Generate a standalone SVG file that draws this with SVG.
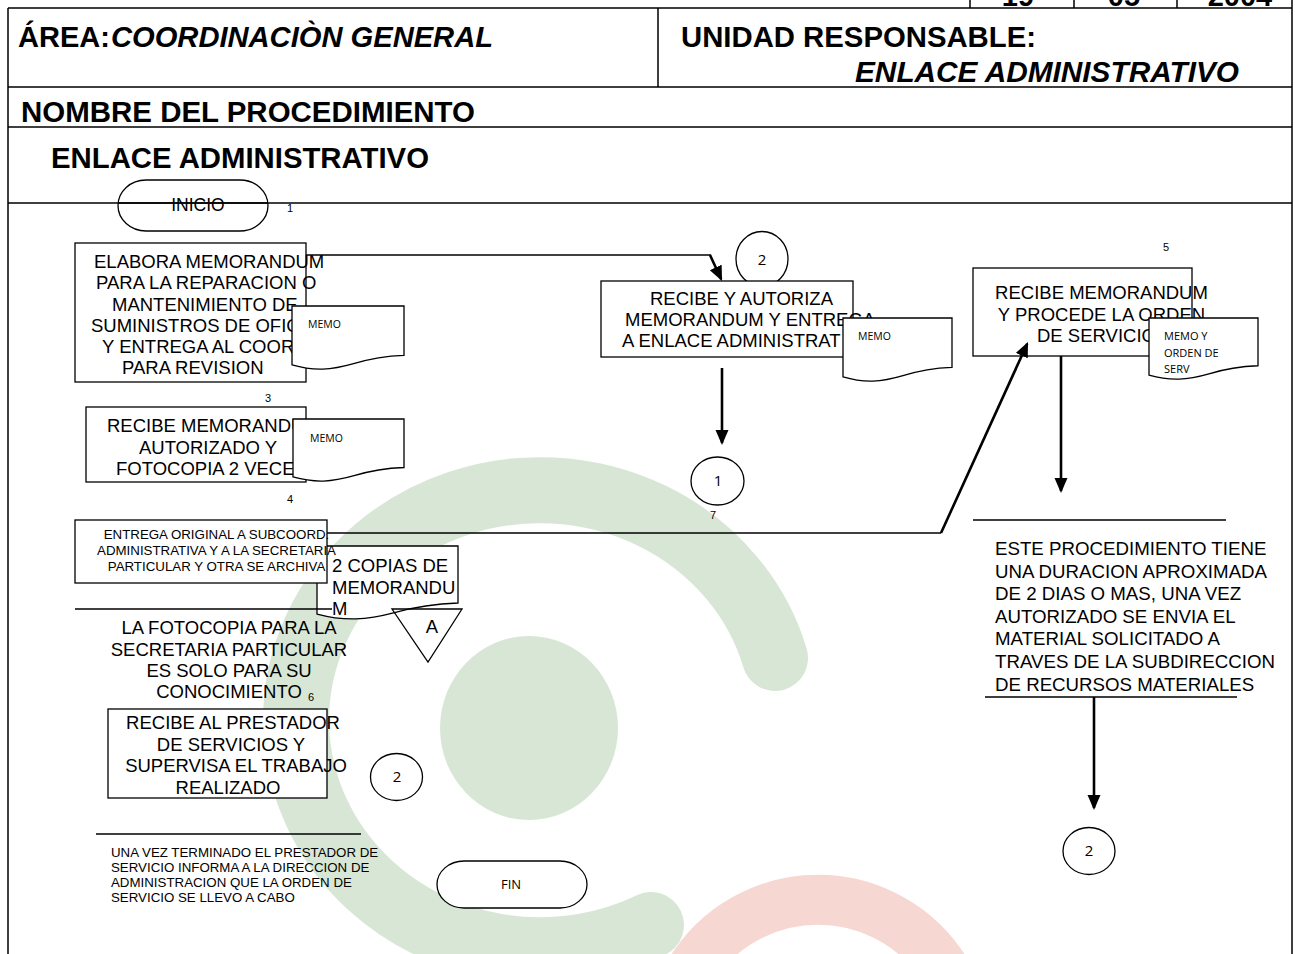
<svg xmlns="http://www.w3.org/2000/svg" width="1295" height="954" viewBox="0 0 1295 954">
<defs>
<style>
.t{font-family:"Liberation Sans",Arial,sans-serif;fill:#000}
.hd{font-size:29px;font-weight:bold}
.it{font-style:italic}
.m{font-size:18.5px}
.r{font-size:18.7px}
.s{font-size:13.3px}
.mid{text-anchor:middle}
.n{font-family:"Liberation Sans",Arial,sans-serif;font-size:11px;fill:#000}
.c{font-family:"Open Sans","Noto Sans",sans-serif;fill:#000}
.box{fill:#fff;stroke:#000;stroke-width:1.3}
.doc{fill:#fff;stroke:#000;stroke-width:1.3}
.circ{fill:#fff;stroke:#000;stroke-width:1.3}
.ln{fill:none;stroke:#000;stroke-width:1.3}
.fr{fill:none;stroke:#000;stroke-width:1.5}
.ar{fill:none;stroke:#000;stroke-width:2.6}
</style>
<marker id="ah" markerUnits="userSpaceOnUse" markerWidth="15" markerHeight="14" viewBox="0 0 15 14" refX="13" refY="7" orient="auto">
<path d="M0,0.5 L15,7 L0,13.5 Z" fill="#000"/>
</marker>
<path id="docShape" d="M0,0 H100 V77 C85,77.9 70,82 55,90 C35,100 20,102 0,92 Z" vector-effect="non-scaling-stroke"/>
</defs>
<rect x="0" y="0" width="1295" height="954" fill="#fff"/>
<g id="watermark">
<path d="M775,658 A244,230 0 1 0 651,925" fill="none" stroke="#d8e7d5" stroke-width="66" stroke-linecap="round"/>
<ellipse cx="529" cy="728" rx="89" ry="92" fill="#d8e7d5"/>
<path d="M677,1101 A150,150 0 1 1 959,1101" fill="none" stroke="#f6d7d1" stroke-width="50"/>
</g>
<g id="frame">
<path class="fr" d="M8,8 H1292 M8,8 V954 M1292,0 V954 M8,87 H1292 M658,8 V87 M8,127 H1292 M8,203 H1292 M970,0 V8 M1074,0 V8 M1177,0 V8"/>
<text class="t hd mid" x="1018" y="6">19</text>
<text class="t hd mid" x="1124" y="6">05</text>
<text class="t hd mid" x="1240" y="6">2004</text>
<text class="t hd" x="18" y="47">ÁREA:</text>
<text class="t hd it" x="111" y="47" textLength="382" lengthAdjust="spacingAndGlyphs">COORDINACIÒN GENERAL</text>
<text class="t hd" x="681" y="47" textLength="355" lengthAdjust="spacingAndGlyphs">UNIDAD RESPONSABLE:</text>
<text class="t hd it" x="855" y="82" textLength="384" lengthAdjust="spacingAndGlyphs">ENLACE ADMINISTRATIVO</text>
<text class="t hd" x="21" y="122" textLength="454" lengthAdjust="spacingAndGlyphs">NOMBRE DEL PROCEDIMIENTO</text>
<text class="t hd" x="51" y="168" textLength="378" lengthAdjust="spacingAndGlyphs">ENLACE ADMINISTRATIVO</text>
</g>
<g id="n-inicio">
<rect class="ln" x="118" y="180" width="150" height="51" rx="28" ry="25.5"/>
<path class="fr" d="M118,203 H268"/>
<text class="t mid" x="198" y="211" font-size="17.5">INICIO</text>
</g>
<g id="n-c2top">
<ellipse class="circ" cx="762" cy="259" rx="26" ry="27.5"/>
<text class="c mid" x="762" y="265" font-size="15">2</text>
</g>
<g id="n-step1">
<text class="n" x="287" y="212">1</text>
<rect class="box" x="75" y="243" width="231" height="139"/>
<text class="t m" x="94" y="268">ELABORA MEMORANDUM</text>
<text class="t m" x="96" y="289">PARA LA REPARACION O</text>
<text class="t m" x="112" y="310.5">MANTENIMIENTO DE</text>
<text class="t m" x="91" y="332">SUMINISTROS DE OFIC</text>
<text class="t m" x="102" y="353">Y ENTREGA AL COOR</text>
<text class="t m" x="122" y="374">PARA REVISION</text>
<use href="#docShape" class="doc" transform="translate(292,306) scale(1.12,0.64)"/>
<text class="c" x="308" y="328" font-size="10.5">MEMO</text>
</g>
<g id="n-step2">
<rect class="box" x="601" y="281" width="252" height="76"/>
<text class="t m" x="650" y="305">RECIBE Y AUTORIZA</text>
<text class="t m" x="625" y="326">MEMORANDUM Y ENTREGA</text>
<text class="t m" x="622" y="347">A ENLACE ADMINISTRAT</text>
<use href="#docShape" class="doc" transform="translate(843,318) scale(1.09,0.64)"/>
<text class="c" x="858" y="340" font-size="10.5">MEMO</text>
</g>
<g id="n-c1">
<ellipse class="circ" cx="717.5" cy="481" rx="26.5" ry="24"/>
<text class="c mid" x="718" y="486" font-size="15">1</text>
<text class="n" x="710" y="519">7</text>
</g>
<g id="n-step5">
<text class="n" x="1163" y="251">5</text>
<rect class="box" x="973" y="268" width="219" height="88"/>
<text class="t m mid" x="1101.5" y="299">RECIBE MEMORANDUM</text>
<text class="t m mid" x="1101.5" y="320.5">Y PROCEDE LA ORDEN</text>
<text class="t m" x="1037" y="342">DE SERVICIO</text>
<use href="#docShape" class="doc" transform="translate(1149,318) scale(1.09,0.62)"/>
<text class="c" x="1164" y="340" font-size="11">MEMO Y</text>
<text class="c" x="1164" y="356.5" font-size="11">ORDEN DE</text>
<text class="c" x="1164" y="373" font-size="11">SERV</text>
</g>
<g id="n-step3">
<text class="n" x="265" y="402">3</text>
<rect class="box" x="86" y="407" width="220" height="75"/>
<text class="t m" x="107" y="432">RECIBE MEMORANDUM</text>
<text class="t m mid" x="208" y="453.5">AUTORIZADO Y</text>
<text class="t m" x="116" y="475">FOTOCOPIA 2 VECE</text>
<use href="#docShape" class="doc" transform="translate(293,419) scale(1.11,0.63)"/>
<text class="c" x="310" y="442" font-size="10.5">MEMO</text>
</g>
<g id="n-step4">
<text class="n" x="287" y="503">4</text>
<use href="#docShape" class="doc" transform="translate(317,546) scale(1.41,0.74)"/>
<rect class="box" x="75" y="520" width="252" height="63"/>
<text class="t s mid" x="216.5" y="539">ENTREGA ORIGINAL A SUBCOORD.</text>
<text class="t s mid" x="216.5" y="555">ADMINISTRATIVA Y A LA SECRETARIA</text>
<text class="t s mid" x="216.5" y="571">PARTICULAR Y OTRA SE ARCHIVA</text>
<text class="t m" x="332" y="572">2 COPIAS DE</text>
<text class="t m" x="332" y="594">MEMORANDU</text>
<text class="t m" x="332" y="615">M</text>
</g>
<g id="n-note1">
<path class="ln" d="M75,609 H332"/>
<text class="t m mid" x="229" y="634">LA FOTOCOPIA PARA LA</text>
<text class="t m mid" x="229" y="656">SECRETARIA PARTICULAR</text>
<text class="t m mid" x="229" y="677">ES SOLO PARA SU</text>
<text class="t m mid" x="229" y="698">CONOCIMIENTO</text>
<text class="n" x="308" y="701">6</text>
</g>
<g id="n-offA">
<polygon class="ln" points="392,609 462,609 428,662"/>
<text class="t m mid" x="432" y="633">A</text>
</g>
<g id="n-step6">
<rect class="box" x="108" y="709" width="219" height="89"/>
<text class="t m mid" x="233" y="729">RECIBE AL PRESTADOR</text>
<text class="t m mid" x="231" y="751">DE SERVICIOS Y</text>
<text class="t m mid" x="236" y="772">SUPERVISA EL TRABAJO</text>
<text class="t m mid" x="228" y="794">REALIZADO</text>
</g>
<g id="n-c2mid">
<ellipse class="circ" cx="396.5" cy="777" rx="26" ry="23.5"/>
<text class="c mid" x="397" y="782" font-size="15">2</text>
</g>
<g id="n-note2">
<path class="ln" d="M96,834 H361"/>
<text class="t s" x="111" y="857">UNA VEZ TERMINADO EL PRESTADOR DE</text>
<text class="t s" x="111" y="872">SERVICIO INFORMA A LA DIRECCION DE</text>
<text class="t s" x="111" y="887">ADMINISTRACION QUE LA ORDEN DE</text>
<text class="t s" x="111" y="902">SERVICIO SE LLEVO A CABO</text>
</g>
<g id="n-fin">
<rect class="circ" x="437" y="861" width="150" height="47" rx="27" ry="23.5"/>
<text class="c mid" x="511" y="889" font-size="13">FIN</text>
</g>
<g id="n-note3">
<path class="ln" d="M973,520 H1226 M985,697 H1237"/>
<text class="t r" x="995" y="555">ESTE PROCEDIMIENTO TIENE</text>
<text class="t r" x="995" y="577.6">UNA DURACION APROXIMADA</text>
<text class="t r" x="995" y="600.2">DE 2 DIAS O MAS, UNA VEZ</text>
<text class="t r" x="995" y="622.8">AUTORIZADO SE ENVIA EL</text>
<text class="t r" x="995" y="645.4">MATERIAL SOLICITADO A</text>
<text class="t r" x="995" y="668">TRAVES DE LA SUBDIRECCION</text>
<text class="t r" x="995" y="690.6">DE RECURSOS MATERIALES</text>
</g>
<g id="n-c2bot">
<ellipse class="circ" cx="1089" cy="851" rx="26" ry="23.5"/>
<text class="c mid" x="1089" y="856" font-size="15">2</text>
</g>
<g id="connectors">
<path class="ln" d="M306,255 H711"/>
<path class="ar" d="M710,255 L721.2,279.2" marker-end="url(#ah)"/>
<path class="ar" d="M722,368 V443" marker-end="url(#ah)"/>
<path class="ln" stroke-width="1.6" d="M327,533 H941"/>
<path class="ar" d="M941,533 L1027.2,343.8" marker-end="url(#ah)"/>
<path class="ar" d="M1061,356 V491" marker-end="url(#ah)"/>
<path class="ar" d="M1094,697 V808" marker-end="url(#ah)"/>
</g>
</svg>
